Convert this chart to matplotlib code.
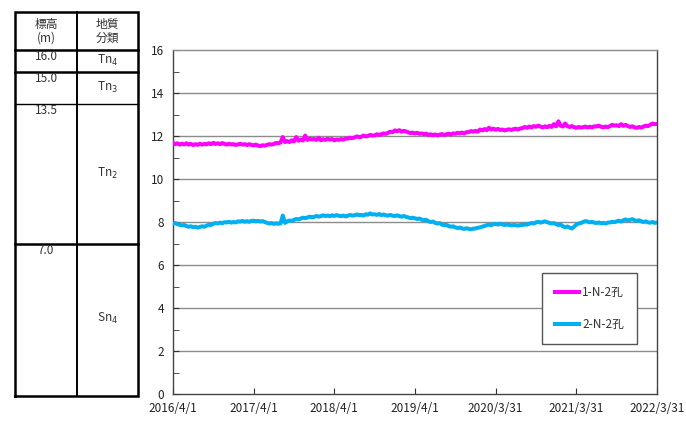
import matplotlib
matplotlib.use("Agg")
import matplotlib.pyplot as plt
import pandas as pd
import numpy as np

plt.rcParams['font.family'] = ['Noto Sans CJK JP', 'DejaVu Sans']

# ---------------- data ----------------
start_date = "2016-04-01"
end_date = "2022-03-31"

series1_name = "1-N-2孔"
series1 = [
    # 2016 Apr-Dec
    11.68, 11.62, 11.66, 11.60, 11.64, 11.61, 11.66, 11.60, 11.63, 11.58, 11.62, 11.59,
    11.64, 11.60, 11.63, 11.61, 11.66, 11.62, 11.68, 11.63, 11.66, 11.62, 11.67, 11.63,
    11.60, 11.64, 11.61,
    # 2017
    11.62, 11.58, 11.61, 11.64, 11.60, 11.62, 11.58, 11.62, 11.59, 11.56, 11.60, 11.55,
    11.53, 11.57, 11.55, 11.59, 11.62, 11.60, 11.63, 11.68, 11.66, 11.70, 11.95, 11.72,
    11.76, 11.72, 11.80, 11.75, 11.95, 11.78, 11.84, 11.79, 12.02, 11.82, 11.88, 11.84,
    # 2018
    11.86, 11.82, 11.92, 11.80, 11.85, 11.82, 11.87, 11.83, 11.86, 11.80, 11.84, 11.82,
    11.86, 11.83, 11.88, 11.88, 11.92, 11.90, 11.93, 11.98, 11.95, 11.96, 12.02, 11.98,
    12.00, 12.05, 12.02, 12.03, 12.08, 12.05, 12.08, 12.12, 12.10, 12.15, 12.20, 12.18,
    # 2019
    12.26, 12.22, 12.27, 12.20, 12.24, 12.21, 12.17, 12.13, 12.16, 12.12, 12.15, 12.10,
    12.12, 12.08, 12.11, 12.05, 12.08, 12.04, 12.07, 12.03, 12.06, 12.09, 12.05, 12.08,
    12.11, 12.07, 12.12, 12.10, 12.15, 12.12, 12.16, 12.12, 12.18, 12.18, 12.23, 12.20,
    # 2020
    12.24, 12.20, 12.30, 12.26, 12.32, 12.27, 12.38, 12.30, 12.34, 12.29, 12.33, 12.28,
    12.30, 12.26, 12.29, 12.31, 12.28, 12.32, 12.34, 12.30, 12.35, 12.37, 12.42, 12.38,
    12.44, 12.40, 12.46, 12.43, 12.48, 12.44, 12.40, 12.45, 12.41, 12.47, 12.42, 12.55,
    # 2021
    12.45, 12.68, 12.48, 12.44, 12.58, 12.46, 12.42, 12.46, 12.41, 12.38, 12.42, 12.39,
    12.41, 12.44, 12.40, 12.43, 12.40, 12.45, 12.44, 12.48, 12.43, 12.40, 12.44, 12.41,
    12.46, 12.52, 12.48, 12.50, 12.46, 12.55, 12.47, 12.52, 12.46, 12.42, 12.45, 12.40,
    # 2022 Jan-Mar
    12.38, 12.42, 12.39, 12.44, 12.48, 12.46, 12.52, 12.58, 12.55, 12.56,
]

series2_name = "2-N-2孔"
series2 = [
    # 2016 Apr-Dec
    7.92, 7.95, 7.90, 7.87, 7.84, 7.86, 7.81, 7.78, 7.80, 7.76, 7.78, 7.74,
    7.77, 7.80, 7.78, 7.83, 7.87, 7.86, 7.92, 7.95, 7.93, 7.97, 7.95, 7.99,
    7.98, 8.01, 7.97,
    # 2017
    8.00, 7.98, 8.03, 8.02, 8.05, 8.01, 8.04, 8.01, 8.05, 8.06, 8.03, 8.05,
    8.02, 8.04, 8.00, 7.96, 7.93, 7.95, 7.91, 7.94, 7.92, 7.93, 8.30, 7.96,
    8.03, 8.07, 8.05, 8.10, 8.14, 8.12, 8.16, 8.20, 8.18, 8.21, 8.25, 8.22,
    # 2018
    8.24, 8.28, 8.25, 8.27, 8.31, 8.28, 8.30, 8.27, 8.31, 8.28, 8.32, 8.29,
    8.27, 8.30, 8.26, 8.29, 8.33, 8.30, 8.31, 8.35, 8.32, 8.33, 8.30, 8.36,
    8.34, 8.40, 8.35, 8.36, 8.33, 8.37, 8.32, 8.35, 8.31, 8.30, 8.33, 8.29,
    # 2019
    8.28, 8.31, 8.27, 8.25, 8.28, 8.24, 8.21, 8.18, 8.20, 8.17, 8.14, 8.16,
    8.11, 8.08, 8.10, 8.03, 8.00, 8.02, 7.96, 7.93, 7.95, 7.88, 7.85, 7.87,
    7.81, 7.78, 7.80, 7.75, 7.72, 7.74, 7.70, 7.68, 7.71, 7.68, 7.66, 7.69,
    # 2020
    7.70, 7.73, 7.75, 7.78, 7.82, 7.85, 7.88, 7.85, 7.90, 7.91, 7.88, 7.92,
    7.89, 7.86, 7.88, 7.87, 7.84, 7.86, 7.85, 7.83, 7.86, 7.86, 7.89, 7.88,
    7.92, 7.95, 7.93, 7.98, 8.01, 7.97, 8.00, 8.03, 7.99, 7.96, 7.93, 7.95,
    # 2021
    7.90, 7.86, 7.88, 7.80, 7.76, 7.79, 7.74, 7.70, 7.78, 7.88, 7.93, 7.95,
    8.00, 8.04, 8.02, 7.98, 8.01, 7.97, 7.95, 7.98, 7.94, 7.96, 7.93, 7.97,
    7.98, 8.01, 7.99, 8.03, 8.06, 8.02, 8.08, 8.12, 8.07, 8.10, 8.13, 8.08,
    # 2022 Jan-Mar
    8.05, 8.08, 8.03, 8.00, 8.03, 7.98, 7.97, 8.00, 7.96, 7.98,
]

x_tick_dates = ["2016-04-01", "2017-04-01", "2018-04-01", "2019-04-01",
                "2020-03-31", "2021-03-31", "2022-03-31"]
x_tick_labels = ["2016/4/1", "2017/4/1", "2018/4/1", "2019/4/1",
                 "2020/3/31", "2021/3/31", "2022/3/31"]

# geologic column table
layer_tops = [16.0, 15.0, 13.5, 7.0]
layer_top_labels = ["16.0", "15.0", "13.5", "7.0"]
layer_bottoms = [15.0, 13.5, 7.0, 0.0]
layer_names = [r"Tn$_4$", r"Tn$_3$", r"Tn$_2$", r"Sn$_4$"]

# ---------------- figure ----------------
W, H = 686, 421
fig = plt.figure(figsize=(W / 100, H / 100), dpi=100)

def fx(px):
    return px / W

def fy(py):
    return 1 - py / H

# main plot axes
ax_l, ax_r, ax_t, ax_b = 173, 657, 50, 394
ax = fig.add_axes([fx(ax_l), fy(ax_b), fx(ax_r - ax_l), (ax_b - ax_t) / H])

dates1 = pd.date_range(start_date, end_date, periods=len(series1))
dates2 = pd.date_range(start_date, end_date, periods=len(series2))

grid_c = "#8c8c8c"
for yv in range(2, 16, 2):
    ax.axhline(yv, color=grid_c, lw=1.0, zorder=1)

ax.plot(dates1, series1, color="#FF00FF", lw=2.9, label=series1_name, zorder=3)
ax.plot(dates2, series2, color="#00B0F0", lw=2.9, label=series2_name, zorder=3)

ax.set_ylim(0, 16)
ax.set_xlim(pd.Timestamp(start_date), pd.Timestamp(end_date))
ax.set_yticks(np.arange(0, 17, 2))
ax.set_yticks(np.arange(1, 16, 2), minor=True)
ax.set_yticklabels([str(v) for v in range(0, 17, 2)])
ax.set_xticks([pd.Timestamp(d) for d in x_tick_dates])
ax.set_xticklabels(x_tick_labels)

ax.tick_params(axis="both", which="both", direction="in", colors="#333333",
               labelsize=8.5, labelcolor="#222222")
ax.tick_params(axis="y", which="major", length=4, pad=6.5)
ax.tick_params(axis="y", which="minor", length=4)
ax.tick_params(axis="x", which="major", length=4, pad=5.5)
ax.tick_params(top=False, right=False)

for s in ["left", "bottom", "right"]:
    ax.spines[s].set_color("#444444")
    ax.spines[s].set_linewidth(1.0)
ax.spines["top"].set_color(grid_c)
ax.spines["top"].set_linewidth(1.0)

leg = ax.legend(loc="upper left", bbox_to_anchor=((542 - ax_l) / (ax_r - ax_l),
                                                  (ax_b - 273) / (ax_b - ax_t)),
                borderaxespad=0, fontsize=8.5, frameon=True, fancybox=False,
                edgecolor="#555555", framealpha=1, handlelength=2.0,
                handletextpad=0.3, labelspacing=1.6, borderpad=1.1)
leg.get_frame().set_linewidth(1.0)
leg.set_zorder(5)
for t in leg.get_texts():
    t.set_color("#333333")

# ---------------- geologic column table ----------------
t_l, t_r, t_t, t_b = 15, 138, 12, 396
per = (ax_b - ax_t) / 16.0
y_top = 16 + (ax_t - t_t) / per
y_bot = -(t_b - ax_b) / per
tax = fig.add_axes([fx(t_l), fy(t_b), fx(t_r - t_l), (t_b - t_t) / H])
tax.set_xlim(0, 1)
tax.set_ylim(y_bot, y_top)
tax.axis("off")

lw_thick = 1.8
tax.plot([0, 1, 1, 0, 0], [y_bot, y_bot, y_top, y_top, y_bot], color="black",
         lw=lw_thick, clip_on=False, solid_joinstyle="miter")
div = (77 - t_l) / (t_r - t_l)
tax.plot([div, div], [y_bot, y_top], color="black", lw=1.4, clip_on=False)
for yv, lw in zip(layer_tops, [lw_thick, lw_thick, 1.0, lw_thick]):
    tax.plot([0, 1], [yv, yv], color="black", lw=lw, clip_on=False)

txt_c = "#333333"
tax.text(div / 2, (y_top + 16) / 2, "標高\n(m)", ha="center", va="center",
         fontsize=8.5, color=txt_c, linespacing=1.1)
tax.text((div + 1) / 2, (y_top + 16) / 2, "地質\n分類", ha="center", va="center",
         fontsize=8.5, color=txt_c, linespacing=1.1)

for top, lab in zip(layer_tops, layer_top_labels):
    tax.text(div / 2, top - 0.02, lab, ha="center", va="top", fontsize=8.5, color=txt_c)

for top, bot, name in zip(layer_tops, layer_bottoms, layer_names):
    tax.text((div + 1) / 2, (top + bot) / 2, name, ha="center", va="center",
             fontsize=8.5, color=txt_c)

fig.savefig("out.png", dpi=100)
